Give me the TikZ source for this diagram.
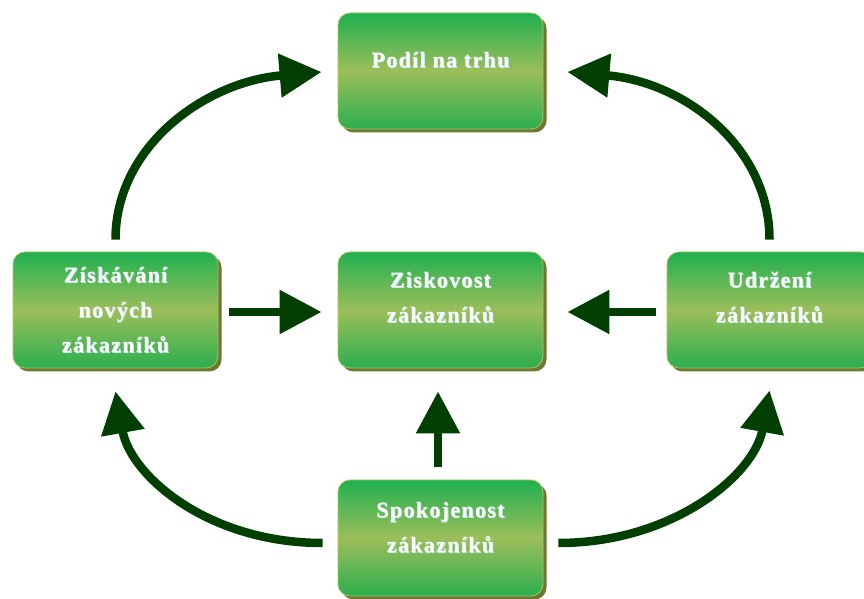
\documentclass[tikz,border=0pt]{standalone}
\usepackage{fontspec}
\setmainfont{Liberation Serif}
\newfontfamily\boxfont[LetterSpace=6]{Liberation Serif}
\usetikzlibrary{arrows.meta,shadows}

\definecolor{boxgreen}{HTML}{20B050}
\definecolor{boxgreenlow}{HTML}{2CAE4E}
\definecolor{boxmid}{HTML}{9BBE5A}
\definecolor{boxedge}{HTML}{A9C465}
\definecolor{boxshadow}{HTML}{6B7A30}
\definecolor{arrowgreen}{HTML}{003F00}
\definecolor{glow}{HTML}{C4EAF4}

% white caption letters with a pale blue halo
\newcommand{\gl}[1]{\rlap{\kern0.8pt\raisebox{-0.8pt}{\textcolor{glow}{#1}}}\textcolor{white}{#1}}
% stacked lines, the node's base is the first line's baseline
\newcommand{\lines}[1]{\begin{tabular}[t]{@{}c@{}}#1\end{tabular}}

\tikzset{
  box/.style={rectangle, rounded corners=12pt, minimum width=205pt,
    minimum height=116pt, inner sep=0pt, draw=boxedge, line width=0.8pt,
    top color=boxgreen, bottom color=boxgreenlow, middle color=boxmid,
    drop shadow={shadow xshift=3.5pt, shadow yshift=-3.5pt,
      fill=boxshadow, opacity=1}},
  lbl/.style={anchor=base, inner sep=0pt,
    font=\boxfont\bfseries\fontsize{22pt}{35pt}\selectfont},
  arr/.style={line width=8.5pt, draw=arrowgreen,
    -{Triangle[length=42pt,width=42pt]}}
}

\begin{document}
\begin{tikzpicture}[x=1pt,y=1pt]
\useasboundingbox (0,0) rectangle (864,599);
\clip (0,0) rectangle (864,599);

% boxes
\node[box] (T) at (440.5,528) {};
\node[box] (L) at (115.5,289) {};
\node[box] (C) at (440.5,289) {};
\node[box] (R) at (769.5,289) {};
\node[box] (B) at (440.5,61) {};

% captions
\node[lbl] (tT) at ([yshift=3pt]T.center) {\lines{\gl{Podíl na trhu}}};
\node[lbl] (tL) at ([yshift=27pt]L.center) {\lines{\gl{Získávání}\\ \gl{nových}\\ \gl{zákazníků}}};
\node[lbl] (tC) at ([yshift=22pt]C.center) {\lines{\gl{Ziskovost}\\ \gl{zákazníků}}};
\node[lbl] (tR) at ([yshift=22pt]R.center) {\lines{\gl{Udržení}\\ \gl{zákazníků}}};
\node[lbl] (tB) at ([yshift=20pt]B.center) {\lines{\gl{Spokojenost}\\ \gl{zákazníků}}};

% straight connectors
\draw[arr] ([xshift=11pt,yshift=-2pt]L.east) -- ([xshift=-16pt,yshift=-2pt]C.west);
\draw[arr] ([xshift=-11pt,yshift=-2pt]R.west) -- ([xshift=24pt,yshift=-2pt]C.east);
\draw[arr] ([xshift=-2.5pt,yshift=13pt]B.north) -- ([xshift=-2.5pt,yshift=-23pt]C.south);

% curved connectors
\draw[arr] ([yshift=12pt]L.north) .. controls +(0,93) and +(-117,-10) .. ([xshift=-16pt,yshift=-1pt]T.west);
\draw[arr] ([yshift=12pt]R.north) .. controls +(0,93) and +(117,-10) .. ([xshift=24pt,yshift=-1pt]T.east);
\draw[arr] ([xshift=-15pt,yshift=-5pt]B.west) .. controls +(-115,0) and +(15,-84) .. ([yshift=-23pt]L.south);
\draw[arr] ([xshift=15pt,yshift=-5pt]B.east) .. controls +(115,0) and +(-15,-84) .. ([yshift=-22pt]R.south);
\end{tikzpicture}
\end{document}
